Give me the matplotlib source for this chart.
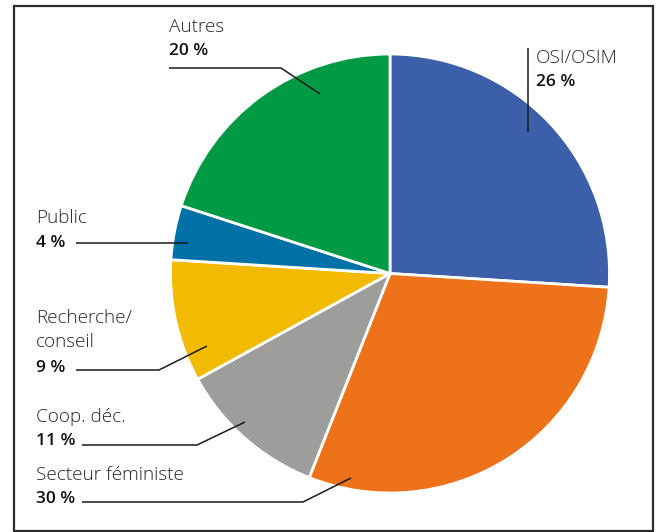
import matplotlib
matplotlib.use("Agg")
import matplotlib.pyplot as plt
from matplotlib.patches import Rectangle

# Répartition par type d'organisation (en %)
categories = ["OSI/OSIM", "Secteur féministe", "Coop. déc.", "Recherche/\nconseil", "Public", "Autres"]
values = [26, 30, 11, 9, 4, 20]
colors = ["#3B5FA9", "#EE7219", "#9D9D9C", "#F2BA00", "#0071A7", "#009A44"]

W, H = 656, 532
fig = plt.figure(figsize=(W / 100, H / 100), dpi=100)
ax = fig.add_axes([0, 0, 1, 1])


def Y(y):
    """Top-down pixel row -> axis y."""
    return H - y


cx, cy, r = 390, 273.5, 219.5
ax.pie(values, colors=colors, startangle=90, counterclock=False,
       center=(cx, Y(cy)), radius=r, frame=True,
       wedgeprops=dict(edgecolor="white", linewidth=2.0))
ax.set_xlim(0, W)
ax.set_ylim(0, H)
ax.set_aspect("auto")
ax.axis("off")

# Cadre
ax.add_patch(Rectangle((13.5, Y(530.5)), 639.5, 525, fill=False,
                       edgecolor="#2b2b2b", linewidth=1.6, zorder=5,
                       clip_on=False))

font = "Open Sans"
name_kw = dict(family=font, fontsize=13.6, color="#262626", va="baseline",
               ha="left", fontweight="light")
pct_kw = dict(family=font, fontsize=12.5, color="#111111", va="baseline",
              ha="left", fontweight="semibold")

# Étiquettes : (x, lignes de base du nom, ligne de base du pourcentage, trait)
labels = [
    (536, [63], 86, [(528, 48), (528, 132)]),
    (36, [480], 503, [(82, 502), (303, 502), (351, 478)]),
    (36, [422], 445, [(82, 445), (197, 445), (245, 422)]),
    (36, [323, 347], 372, [(76, 370), (159, 370), (207, 346)]),
    (36, [223], 247, [(76, 243), (188, 243)]),
    (169, [32], 55, [(169, 68), (281, 68), (320, 94)]),
]

for cat, val, (x, name_ys, pct_y, line) in zip(categories, values, labels):
    for part, yb in zip(cat.split("\n"), name_ys):
        ax.text(x, Y(yb), part, **name_kw)
    ax.text(x, Y(pct_y), f"{val} %", **pct_kw)
    xs = [p[0] for p in line]
    ys = [Y(p[1]) for p in line]
    ax.plot(xs, ys, color="#1a1a1a", linewidth=1.1, zorder=4,
            solid_capstyle="butt")

fig.savefig("out.png", dpi=100, facecolor="white")
